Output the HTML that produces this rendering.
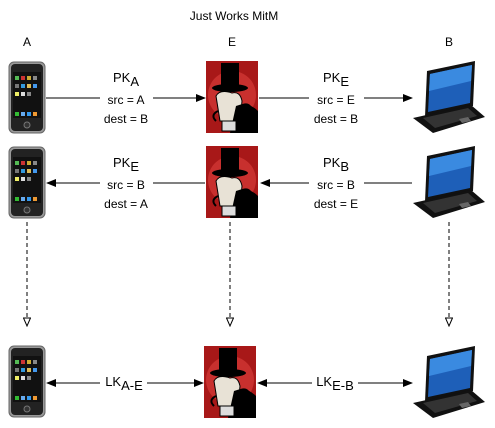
<!DOCTYPE html>
<html><head><meta charset="utf-8"><style>
html,body{margin:0;padding:0;background:#fff;}
svg{display:block;font-family:"Liberation Sans",Arial,sans-serif;}
</style></head><body>
<svg width="495" height="428" viewBox="0 0 495 428" xmlns="http://www.w3.org/2000/svg">
<defs>
<marker id="ar" markerWidth="10" markerHeight="8" refX="9" refY="4" orient="auto" markerUnits="userSpaceOnUse"><path d="M0,0 L10,4 L0,8 Z" fill="#000"/></marker>
<marker id="ho" markerWidth="8" markerHeight="10" refX="4" refY="9" orient="0" markerUnits="userSpaceOnUse"><path d="M0.5,1 L7.5,1 L4,9 Z" fill="#fff" stroke="#000" stroke-width="1"/></marker>
<g id="phone">
<rect x="0" y="0" width="36" height="71" rx="5" fill="#999" stroke="#666"/>
<rect x="2" y="2" width="32" height="67" rx="4" fill="#222"/>
<rect x="4" y="10" width="28" height="46" fill="#111"/>
<g>
<rect x="6" y="14" width="4" height="4" fill="#5b5"/><rect x="12" y="14" width="4" height="4" fill="#c33"/><rect x="18" y="14" width="4" height="4" fill="#ca3"/><rect x="24" y="14" width="4" height="4" fill="#888"/>
<rect x="6" y="22" width="4" height="4" fill="#777"/><rect x="12" y="22" width="4" height="4" fill="#39d"/><rect x="18" y="22" width="4" height="4" fill="#db5"/><rect x="24" y="22" width="4" height="4" fill="#49e"/>
<rect x="6" y="30" width="4" height="4" fill="#ee6"/><rect x="12" y="30" width="4" height="4" fill="#ddd"/><rect x="18" y="30" width="4" height="4" fill="#888"/>
<rect x="6" y="50" width="4" height="4" fill="#3b3"/><rect x="12" y="50" width="4" height="4" fill="#6ae"/><rect x="18" y="50" width="4" height="4" fill="#39e"/><rect x="24" y="50" width="4" height="4" fill="#e93"/>
</g>
<circle cx="18" cy="63" r="3" fill="#333" stroke="#777"/>
</g>
<g id="vil">
<rect x="0" y="0" width="52" height="72" fill="#a81818"/>
<circle cx="26" cy="34" r="24" fill="#c8302e"/>
<rect x="15" y="2" width="18" height="26" fill="#000"/>
<ellipse cx="24" cy="27" rx="18" ry="4" fill="#000"/>
<path d="M10 35 Q14 28 26 32 Q34 30 36 40 L34 60 L14 60 Z" fill="#e8e2d6" stroke="#000"/>
<path d="M30 45 Q42 40 52 50 L52 72 L24 72 Z" fill="#000"/>
<path d="M12 50 Q4 54 10 60" stroke="#000" fill="none" stroke-width="2"/>
<path d="M34 45 Q44 40 46 50" stroke="#000" fill="none" stroke-width="2"/>
<rect x="16" y="60" width="14" height="10" fill="#ddd" stroke="#000"/>
</g>
<g id="lap">
<path d="M14 10 L62 0 L60 45 L12 56 Z" fill="#111"/>
<path d="M17 13 L59 4 L57 42 L15 51 Z" fill="#1e5fb8"/>
<path d="M17 13 L59 4 L58 20 L16 30 Z" fill="#3a8ae0"/>
<path d="M0 57 L58 44 L72 56 L20 72 Z" fill="#111"/>
<path d="M10 57 L55 47 L64 55 L22 67 Z" fill="#333"/>
<path d="M46 58 L55 56 L58 60 L49 62 Z" fill="#666"/>
</g>
</defs>
<text x="234" y="20" font-size="12" text-anchor="middle">Just Works MitM</text>
<text x="27" y="46" font-size="12" text-anchor="middle">A</text>
<text x="232" y="46" font-size="12" text-anchor="middle">E</text>
<text x="449" y="46" font-size="12" text-anchor="middle">B</text>

<use href="#phone" x="9" y="62"/>
<use href="#phone" x="9" y="147"/>
<use href="#phone" x="9" y="346"/>
<use href="#vil" x="206" y="61"/>
<use href="#vil" x="206" y="146"/>
<use href="#vil" x="204" y="346"/>
<use href="#lap" x="413" y="61"/>
<use href="#lap" x="413" y="146"/>
<use href="#lap" x="413" y="346"/>

<g stroke="#000" stroke-width="1" fill="none">
<line x1="46" y1="98" x2="100" y2="98"/><line x1="153" y1="98" x2="205" y2="98" marker-end="url(#ar)"/>
<line x1="259" y1="98" x2="309" y2="98"/><line x1="364" y1="98" x2="412" y2="98" marker-end="url(#ar)"/>
<line x1="100" y1="183" x2="47" y2="183" marker-end="url(#ar)"/><line x1="205" y1="183" x2="153" y2="183"/>
<line x1="309" y1="183" x2="261" y2="183" marker-end="url(#ar)"/><line x1="412" y1="183" x2="364" y2="183"/>
<line x1="100" y1="383" x2="47" y2="383" marker-end="url(#ar)"/><line x1="147" y1="383" x2="203" y2="383" marker-end="url(#ar)"/>
<line x1="312" y1="383" x2="258" y2="383" marker-end="url(#ar)"/><line x1="358" y1="383" x2="412" y2="383" marker-end="url(#ar)"/>
<g stroke-dasharray="4,3">
<line x1="27" y1="222" x2="27" y2="326" marker-end="url(#ho)"/>
<line x1="230" y1="222" x2="230" y2="326" marker-end="url(#ho)"/>
<line x1="449" y1="222" x2="449" y2="326" marker-end="url(#ho)"/>
</g>
</g>

<g font-size="12" text-anchor="middle">
<text x="126" y="82" font-size="13">PK<tspan dy="4">A</tspan></text>
<text x="126" y="104">src = A</text>
<text x="126" y="123">dest = B</text>
<text x="336" y="82" font-size="13">PK<tspan dy="4">E</tspan></text>
<text x="336" y="104">src = E</text>
<text x="336" y="123">dest = B</text>
<text x="126" y="167" font-size="13">PK<tspan dy="4">E</tspan></text>
<text x="126" y="189">src = B</text>
<text x="126" y="208">dest = A</text>
<text x="336" y="167" font-size="13">PK<tspan dy="4">B</tspan></text>
<text x="336" y="189">src = B</text>
<text x="336" y="208">dest = E</text>
<text x="124" y="386" font-size="13">LK<tspan dy="4">A-E</tspan></text>
<text x="335" y="386" font-size="13">LK<tspan dy="4">E-B</tspan></text>
</g>
</svg>
</body></html>
